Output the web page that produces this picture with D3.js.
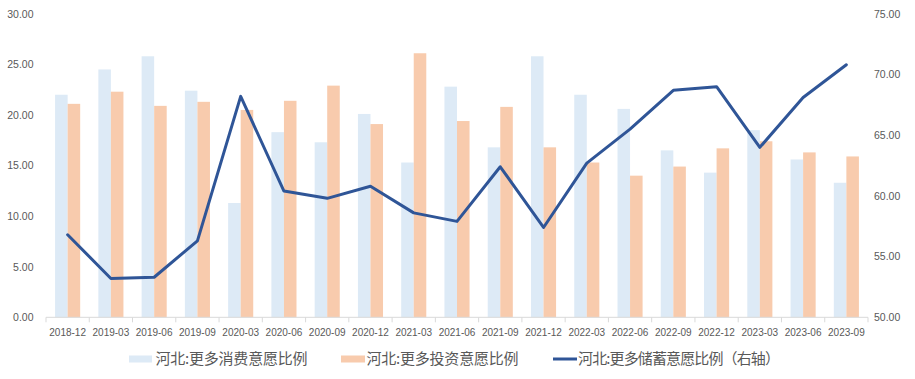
<!DOCTYPE html>
<html><head><meta charset="utf-8">
<script src="https://cdn.jsdelivr.net/npm/d3@7/dist/d3.min.js"></script>
<style>body{margin:0;background:#fff}svg{display:block}</style>
</head><body>
<svg id="c" width="915" height="379"></svg>
<script>
const categories = ["2018-12","2019-03","2019-06","2019-09","2020-03","2020-06","2020-09","2020-12","2021-03","2021-06","2021-09","2021-12","2022-03","2022-06","2022-09","2022-12","2023-03","2023-06","2023-09"];
const consumption = [22.0,24.5,25.8,22.4,11.3,18.3,17.3,20.1,15.3,22.8,16.8,25.8,22.0,20.6,16.5,14.3,18.5,15.6,13.3];
const investment = [21.1,22.3,20.9,21.3,20.5,21.4,22.9,19.1,26.1,19.4,20.8,16.8,15.3,14.0,14.9,16.7,17.4,16.3,15.9];
const savings = [56.8,53.2,53.3,56.3,68.2,60.4,59.8,60.8,58.6,57.9,62.4,57.4,62.7,65.5,68.7,69.0,64.0,68.1,70.8];
const leftTicks = [0,5,10,15,20,25,30];
const rightTicks = [50,55,60,65,70,75];
const seriesNames = ["河北:更多消费意愿比例","河北:更多投资意愿比例","河北:更多储蓄意愿比例（右轴）"];
const colors = ["#DDEAF6","#F8CBAD","#2F5597"];

const svg = d3.select("#c");
const x0 = 46, x1 = 868, yTop = 13.8, yBot = 317.3;
const x = d3.scaleBand().domain(categories).range([x0,x1]).paddingInner(0).paddingOuter(0);
const yL = d3.scaleLinear().domain([0,30]).range([yBot,yTop]);
const yR = d3.scaleLinear().domain([50,75]).range([yBot,yTop]);
const bw = x.bandwidth()*0.29;
const font = "'Liberation Sans', Arial, sans-serif";

// bars
svg.append("g").selectAll("rect").data(consumption).join("rect")
  .attr("x",(d,i)=>x(categories[i])+x.bandwidth()/2-bw)
  .attr("y",d=>yL(d)).attr("width",bw).attr("height",d=>yBot-yL(d))
  .attr("fill",colors[0]);
svg.append("g").selectAll("rect").data(investment).join("rect")
  .attr("x",(d,i)=>x(categories[i])+x.bandwidth()/2)
  .attr("y",d=>yL(d)).attr("width",bw).attr("height",d=>yBot-yL(d))
  .attr("fill",colors[1]);

// x axis
const xa = svg.append("g").attr("transform",`translate(0,${yBot})`);
xa.append("line").attr("x1",x0).attr("x2",x1).attr("stroke","#D9D9D9").attr("stroke-width",1);
const bounds = categories.map(c=>x(c)).concat([x1]);
xa.selectAll("line.t").data(bounds).join("line").attr("class","t")
  .attr("x1",d=>d).attr("x2",d=>d).attr("y1",0).attr("y2",5).attr("stroke","#D9D9D9");
xa.selectAll("text").data(categories).join("text")
  .attr("x",d=>x(d)+x.bandwidth()/2).attr("y",18.5)
  .attr("text-anchor","middle").attr("font-family",font).attr("font-size","10px")
  .attr("fill","#595959").text(d=>d);

// left axis labels
svg.append("g").selectAll("text").data(leftTicks).join("text")
  .attr("x",33.5).attr("y",d=>yL(d)+3.8).attr("text-anchor","end")
  .attr("font-family",font).attr("font-size","10.5px").attr("fill","#595959")
  .text(d=>d.toFixed(2));
// right axis labels
svg.append("g").selectAll("text").data(rightTicks).join("text")
  .attr("x",874).attr("y",d=>yR(d)+3.8).attr("text-anchor","start")
  .attr("font-family",font).attr("font-size","10.5px").attr("fill","#595959")
  .text(d=>d.toFixed(2));

// line
const line = d3.line().x((d,i)=>x(categories[i])+x.bandwidth()/2).y(d=>yR(d));
svg.append("path").datum(savings).attr("d",line).attr("fill","none")
  .attr("stroke",colors[2]).attr("stroke-width",3).attr("stroke-linejoin","round").attr("stroke-linecap","round");

// legend
const lg = svg.append("g").attr("font-family","'Noto Sans CJK SC', sans-serif").attr("font-size","15px").attr("fill","#595959");
const ly = 359;
lg.append("rect").attr("x",129).attr("y",ly-3.5).attr("width",23).attr("height",7).attr("fill",colors[0]);
lg.append("text").attr("x",155.5).attr("y",ly+5.3).attr("textLength",152).attr("lengthAdjust","spacing").text(seriesNames[0]);
lg.append("rect").attr("x",341).attr("y",ly-3.5).attr("width",24).attr("height",7).attr("fill",colors[1]);
lg.append("text").attr("x",366.5).attr("y",ly+5.3).attr("textLength",152).attr("lengthAdjust","spacing").text(seriesNames[1]);
lg.append("line").attr("x1",553).attr("x2",577).attr("y1",ly).attr("y2",ly).attr("stroke",colors[2]).attr("stroke-width",3);
lg.append("text").attr("x",578).attr("y",ly+5.3).attr("textLength",202).attr("lengthAdjust","spacing").text(seriesNames[2]);
</script>
</body></html>
